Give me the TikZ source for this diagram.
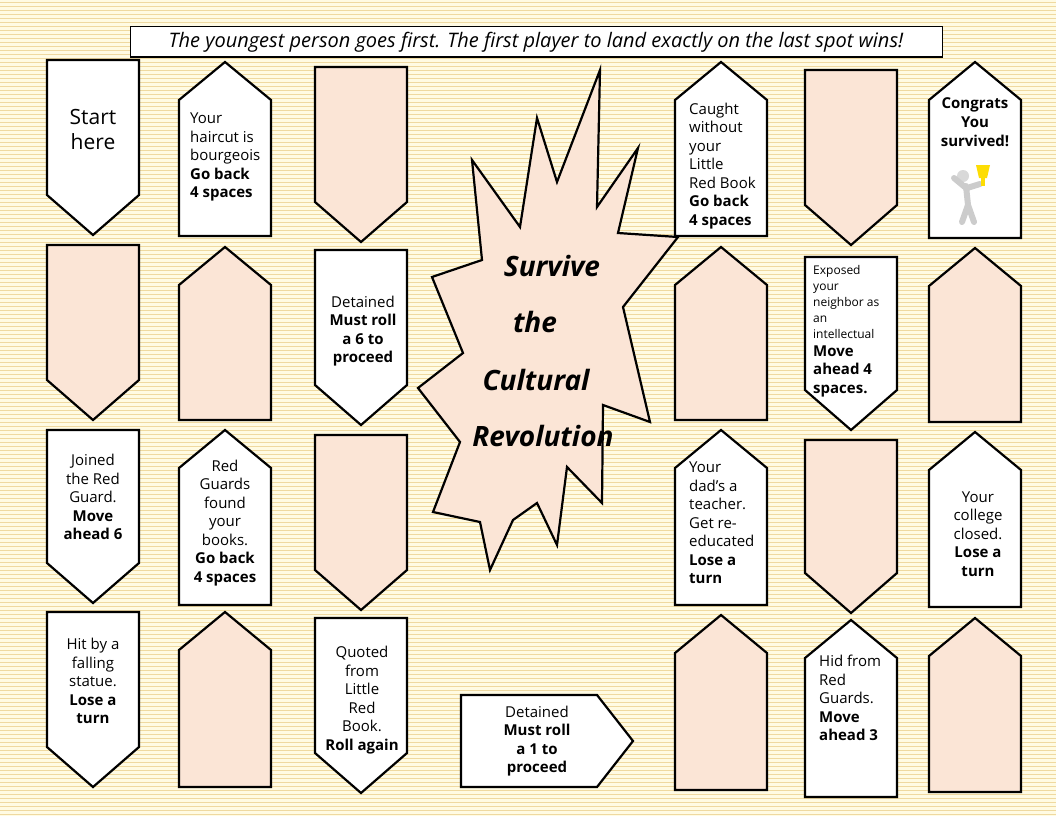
\documentclass[tikz,border=0pt]{standalone}
\usepackage{fontspec}
\setmainfont{Open Sans}
\definecolor{peach}{HTML}{FBE5D6}
\definecolor{bgy}{HTML}{FFFBE3}
\definecolor{stripe}{HTML}{EFD9A0}
\tikzset{
 tile/.style={draw=black,line width=2.2pt,line join=miter},
 txt/.style={font=\fontsize{15}{18.5}\selectfont,align=center,inner sep=0pt},
 txl/.style={font=\fontsize{15}{18.5}\selectfont,align=left,inner sep=0pt,anchor=west},
 burst/.style={font=\fontsize{28}{32}\selectfont\bfseries\itshape,inner sep=0pt},
}
\newcommand\tiledn[4]{\draw[tile,fill=#4] (#1,#2) -- (#1+92,#2) -- (#1+92,#3-40) -- (#1+46,#3) -- (#1,#3-40) -- cycle;}
\newcommand\tileup[4]{\draw[tile,fill=#4] (#1+46,#2) -- (#1+92,#2+38) -- (#1+92,#3) -- (#1,#3) -- (#1,#2+38) -- cycle;}
\begin{document}
\begin{tikzpicture}[x=1pt,y=-1pt]
\useasboundingbox (0,0) rectangle (1056,816);
\fill[bgy] (0,0) rectangle (1056,816);
\foreach \i in {0,...,203} {\draw[stripe,line width=0.7pt] (0,\i*4+2) -- (1056,\i*4+2);}
% title
\node[draw=black,line width=1pt,fill=white,minimum width=812,minimum height=30,inner sep=0pt,font=\fontsize{20}{22}\selectfont\itshape] (title) at (536,42) {The youngest person goes first. The first player to land exactly on the last spot wins!};
% starburst
\draw[tile,fill=peach] (600,70) -- (597,207) -- (638,148) -- (618,233) -- (678,237) -- (623,307) -- (650,422) -- (603,405) -- (602,503) -- (567,467) -- (557,545) -- (537,503) -- (513,520) -- (490,570) -- (480,522) -- (433,512) -- (460,442) -- (418,388) -- (463,353) -- (432,277) -- (482,260) -- (472,160) -- (520,227) -- (537,118) -- (557,182) -- cycle;
\node[burst] (s1) at (552,266) {Survive};
\node[burst] (s2) at (535,322) {the};
\node[burst] (s3) at (536,380) {Cultural};
\node[burst] (s4) at (543,436) {Revolution};
% row 1
\tiledn{47}{60}{235}{white}
\node[txt,font=\fontsize{21}{25}\selectfont] (t11) at (93,129) {Start\\here};
\tileup{179}{62}{236}{white}
\node[txl] (t12) at (190,157) {Your\\haircut is\\bourgeois\\\textbf{Go back}\\\textbf{4 spaces}};
\tiledn{315}{67}{242}{peach}
\tileup{675}{62}{236}{white}
\node[txl] (t14) at (689,166) {Caught\\without\\your\\Little\\Red Book\\\textbf{Go back}\\\textbf{4 spaces}};
\tiledn{805}{70}{245}{peach}
\tileup{929}{62}{238}{white}
\node[txt,font=\fontsize{15}{19}\selectfont\bfseries] (t16) at (975,122) {Congrats\\You\\survived!};
% trophy figure
\fill[gray!30] (963,176) circle (6);
\draw[gray!40,line width=6pt,line cap=round] (966,186) -- (968,205) (968,205) -- (962,222) (968,205) -- (974,222) (966,188) -- (954,178) (967,188) -- (980,184);
\fill[yellow!80!orange] (976,165) -- (990,165) -- (987,178) -- (979,178) -- cycle;
\fill[yellow!80!orange] (981,178) rectangle (985,186);
% row 2
\tiledn{47}{245}{420}{peach}
\tileup{179}{247}{420}{peach}
\tiledn{315}{250}{425}{white}
\node[txt] (t23) at (363,331) {Detained\\\textbf{Must roll}\\\textbf{a 6 to}\\\textbf{proceed}};
\tileup{675}{247}{420}{peach}
\tiledn{805}{257}{430}{white}
\node[txl,font=\fontsize{12}{16}\selectfont] (t25a) at (813,302) {Exposed\\your\\neighbor as\\an\\intellectual};
\node[txl,font=\fontsize{15}{18.5}\selectfont\bfseries] (t25b) at (813,371) {Move\\ahead 4\\spaces.};
\tileup{929}{248}{422}{peach}
% row 3
\tiledn{47}{430}{603}{white}
\node[txt] (t31) at (93,497) {Joined\\the Red\\Guard.\\\textbf{Move}\\\textbf{ahead 6}};
\tileup{179}{430}{605}{white}
\node[txt] (t32) at (225,523) {Red\\Guards\\found\\your\\books.\\\textbf{Go back}\\\textbf{4 spaces}};
\tiledn{315}{435}{610}{peach}
\tileup{675}{430}{605}{white}
\node[txl] (t34) at (689,523) {Your\\dad's a\\teacher.\\Get re-\\educated\\\textbf{Lose a}\\\textbf{turn}};
\tiledn{805}{440}{613}{peach}
\tileup{929}{432}{607}{white}
\node[txt] (t36) at (978,534) {Your\\college\\closed.\\\textbf{Lose a}\\\textbf{turn}};
% row 4
\tiledn{47}{612}{787}{white}
\node[txt] (t41) at (93,681) {Hit by a\\falling\\statue.\\\textbf{Lose a}\\\textbf{turn}};
\tileup{179}{612}{787}{peach}
\tiledn{315}{618}{793}{white}
\node[txt] (t43) at (362,700) {Quoted\\from\\Little\\Red\\Book.\\\textbf{Roll again}};
\tileup{675}{615}{790}{peach}
\tileup{805}{620}{797}{white}
\node[txl] (t45) at (819,698) {Hid from\\Red\\Guards.\\\textbf{Move}\\\textbf{ahead 3}};
\tileup{929}{618}{792}{peach}
% right arrow
\draw[tile,fill=white] (461,695) -- (597,695) -- (633,741) -- (597,787) -- (461,787) -- cycle;
\node[txt] (tr) at (537,741) {Detained\\\textbf{Must roll}\\\textbf{a 1 to}\\\textbf{proceed}};
\end{tikzpicture}
\end{document}
